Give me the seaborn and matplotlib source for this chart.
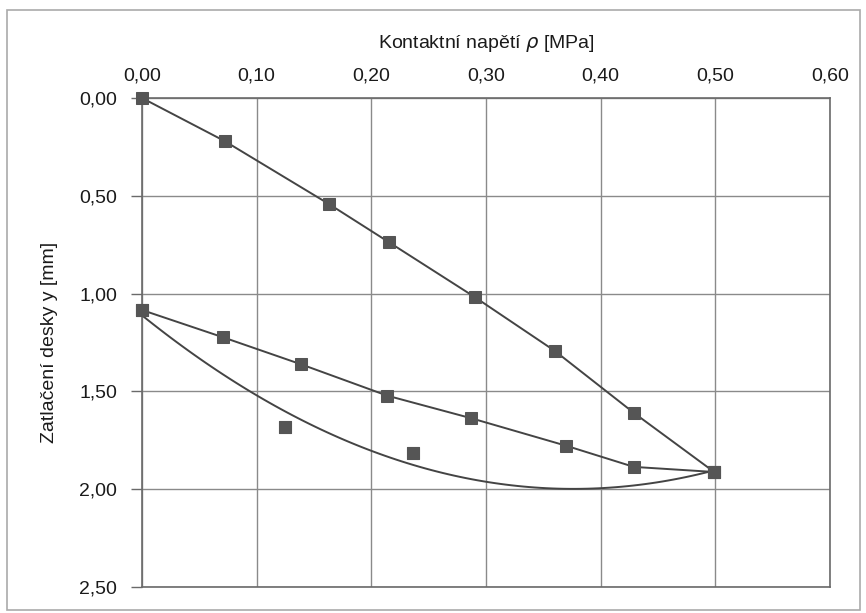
import numpy as np
import pandas as pd
import matplotlib
matplotlib.use("Agg")
import matplotlib.pyplot as plt
from matplotlib.ticker import FuncFormatter
from matplotlib.patches import Rectangle
import seaborn as sns

# Loading branch
load_p = [0.0, 0.072, 0.163, 0.215, 0.290, 0.360, 0.429, 0.499]
load_y = [0.0, 0.22, 0.542, 0.736, 1.017, 1.293, 1.61, 1.912]
# Unloading branch
unload_p = [0.499, 0.429, 0.370, 0.287, 0.214, 0.139, 0.071, 0.0]
unload_y = [1.912, 1.886, 1.778, 1.637, 1.522, 1.362, 1.224, 1.084]
# Reloading points (with quadratic trendline)
reload_p = [0.0, 0.125, 0.236, 0.499]
reload_y = [1.084, 1.68, 1.817, 1.912]

x_ticks = [0.0, 0.1, 0.2, 0.3, 0.4, 0.5, 0.6]
y_ticks = [0.0, 0.5, 1.0, 1.5, 2.0, 2.5]

sns.set_theme(style="white")
plt.rcParams['font.family'] = ['Liberation Sans', 'DejaVu Sans']
plt.rcParams['text.color'] = '#1a1a1a'
plt.rcParams['axes.labelcolor'] = '#1a1a1a'
plt.rcParams['xtick.color'] = '#1a1a1a'
plt.rcParams['ytick.color'] = '#1a1a1a'

fig = plt.figure(figsize=(8.66, 6.13), dpi=100)
ax = fig.add_axes([142/866, 1-587/613, (830-142)/866, (587-98)/613])

line_col = "#444444"
mark_col = "#555555"

df_load = pd.DataFrame({"p": load_p, "y": load_y})
df_unload = pd.DataFrame({"p": unload_p, "y": unload_y})
df_reload = pd.DataFrame({"p": reload_p, "y": reload_y})

for df in (df_load, df_unload):
    sns.lineplot(data=df, x="p", y="y", sort=False, ax=ax, color=line_col,
                 lw=1.4, marker="s", markersize=8.5, markerfacecolor=mark_col,
                 markeredgecolor=mark_col, zorder=3, clip_on=False)
sns.regplot(data=df_reload, x="p", y="y", order=2, ci=None, ax=ax, truncate=True,
            marker="s",
            scatter_kws=dict(s=80, color=mark_col, alpha=1.0, zorder=4,
                             edgecolors=mark_col, linewidths=0.8, clip_on=False),
            line_kws=dict(color=line_col, lw=1.4, zorder=3))

ax.set_xlim(0, 0.6)
ax.set_ylim(2.5, 0)
ax.set_xticks(x_ticks)
ax.set_yticks(y_ticks)
fmt = FuncFormatter(lambda v, pos: f"{v:.2f}".replace(".", ","))
ax.xaxis.set_major_formatter(fmt)
ax.yaxis.set_major_formatter(fmt)
ax.xaxis.tick_top()
ax.xaxis.set_label_position("top")
ax.grid(True, color="#8a8a8a", lw=1.0)
ax.set_axisbelow(True)
for s in ax.spines.values():
    s.set_color("#6a6a6a")
    s.set_linewidth(1.2)
ax.tick_params(axis="y", which="major", left=True, length=8, width=1, color="#6a6a6a",
               labelcolor="#1a1a1a", labelsize=14, pad=10)
ax.tick_params(axis="x", which="major", top=False, length=0, labelsize=14, pad=10,
               labelcolor="#1a1a1a")
ax.set_xlabel("Kontaktní napětí $\\rho$ [MPa]", fontsize=14, labelpad=14)
ax.set_ylabel("Zatlačení desky y [mm]", fontsize=14, labelpad=15)

fig.patches.append(Rectangle((7/866, 3/613), (860-7)/866, (603-3)/613, transform=fig.transFigure,
                             fill=False, edgecolor="#aaaaaa", lw=1.2))

fig.savefig("out.png", dpi=100)
